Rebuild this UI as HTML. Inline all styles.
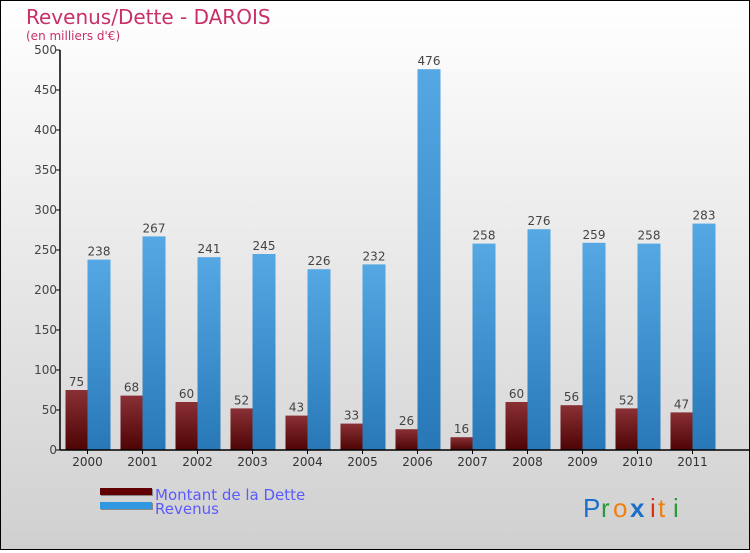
<!DOCTYPE html>
<html><head><meta charset="utf-8"><style>
body{margin:0}
#c{width:748px;height:548px;border:1px solid #000;background:linear-gradient(#fff,#ececec 40%,#d0d0d0);position:relative;font-family:"DejaVu Sans","Liberation Sans",sans-serif}
</style></head><body>
<div id="c">
<svg width="748" height="548" viewBox="1 1 748 548" id="s">
<defs>
<linearGradient id="gd" x1="0" y1="0" x2="0" y2="1"><stop offset="0" stop-color="#8a3035"/><stop offset="1" stop-color="#4e0404"/></linearGradient>
<linearGradient id="gr" x1="0" y1="0" x2="0" y2="1"><stop offset="0" stop-color="#55a8e4"/><stop offset="1" stop-color="#2878b8"/></linearGradient>
</defs>
<text x="26" y="24" font-size="20" fill="#c8306a">Revenus/Dette - DAROIS</text>
<text x="26" y="40" font-size="12" fill="#c8306a">(en milliers d'€)</text>
<g id="plot"></g>
<g>
<rect x="101" y="489" width="52" height="7" fill="#888"/>
<rect x="100" y="488" width="52" height="7" fill="#600000"/>
<rect x="101" y="503" width="52" height="7" fill="#888"/>
<rect x="100" y="502" width="52" height="7" fill="#2f98e0"/>
<text x="155" y="500" font-size="15" fill="#5a5aff">Montant de la Dette</text>
<text x="155" y="514" font-size="15" fill="#5a5aff">Revenus</text>
</g>
<g font-size="26" font-family="Liberation Sans, sans-serif">
<text x="583" y="517" fill="#1a70c8">P</text><text x="601" y="517" fill="#2a9a3a">r</text><text x="613" y="517" fill="#f08010">o</text><text x="630" y="517" fill="#1a70c8" font-weight="bold">x</text><text x="650" y="517" fill="#e03010">i</text><text x="658" y="517" fill="#f08010">t</text><text x="673" y="517" fill="#2a9a3a">i</text>
</g>
</svg>
</div>
<script>
const years=["2000","2001","2002","2003","2004","2005","2006","2007","2008","2009","2010","2011"];
const dette=[75,68,60,52,43,33,26,16,60,56,52,47];
const revenus=[238,267,241,245,226,232,476,258,276,259,258,283];
const yTicks=[0,50,100,150,200,250,300,350,400,450,500];
const NS="http://www.w3.org/2000/svg";
const g=document.getElementById('plot');
const x0=60,y0=450,yMax=500,h=400,step=55;
const ys=v=>y0-v/yMax*h;
const xc=i=>x0+step*i+27.5;
function mk(t,a,txt){const e=document.createElementNS(NS,t);for(const k in a)e.setAttribute(k,a[k]);if(txt!==undefined)e.textContent=txt;g.appendChild(e);return e;}
years.forEach((y,i)=>{
 const c=xc(i);
 let b=mk('rect',{x:c-22,y:ys(dette[i]),width:22,height:y0-ys(dette[i]),fill:'url(#gd)'});
 
 
 let r=mk('rect',{x:c,y:ys(revenus[i]),width:23,height:y0-ys(revenus[i]),fill:'url(#gr)'});
 
 
 let l1=mk('text',{x:c-11,y:ys(dette[i])-4,'font-size':12,fill:'#444','text-anchor':'middle'},dette[i]);
 
 
 let l2=mk('text',{x:c+11.5,y:ys(revenus[i])-4,'font-size':12,fill:'#444','text-anchor':'middle'},revenus[i]);
 
 
 mk('line',{x1:c,x2:c,y1:y0,y2:y0+4,stroke:'#000'});
 let xl=mk('text',{x:c,y:y0+16,'font-size':12,fill:'#333','text-anchor':'middle'},y);
 
 
});
yTicks.forEach(v=>{
 mk('line',{x1:x0-4,x2:x0,y1:ys(v),y2:ys(v),stroke:'#000'});
 let t=mk('text',{x:x0-3,y:ys(v)+4,'font-size':12,fill:'#444','text-anchor':'end'},v);
 
 
});
let ya=mk('line',{x1:x0,x2:x0,y1:ys(500),y2:y0,stroke:'#000','stroke-width':1.5});


let xa=mk('line',{x1:x0,x2:749,y1:y0,y2:y0,stroke:'#000','stroke-width':1.5});


</script>
</body></html>
